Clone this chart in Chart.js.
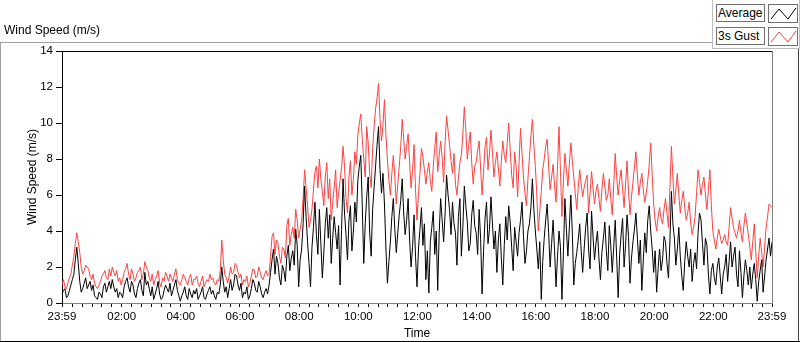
<!DOCTYPE html>
<html>
<head>
<meta charset="utf-8">
<title>Wind Speed (m/s)</title>
<script src="https://cdn.jsdelivr.net/npm/chart.js@4.4.1/dist/chart.umd.min.js"></script>
<style>
  html, body { margin: 0; padding: 0; background: #fff; }
  #wrap { position: relative; width: 800px; height: 342px; overflow: hidden; font-family: "Liberation Sans", Arial, sans-serif; }
  #wrap canvas { position: absolute; left: 0; top: 0; }
  .frame { position: absolute; }
  #title { position: absolute; left: 4px; top: 23px; font-size: 12px; line-height: 14px; color: #000; }
  #legend { position: absolute; left: 712px; top: -1px; width: 86px; height: 49px; border: 1px solid #bdbdbd; border-top: none; background: #fff; }
  .lbl { position: absolute; left: 3px; width: 46px; height: 16px; border: 1px solid #707070; font-size: 12px; line-height: 16px; padding-left: 1px; color: #000; }
  .sw { position: absolute; left: 55px; width: 28px; height: 17px; border: 1px solid #707070; }
</style>
</head>
<body>
<div id="wrap">
  <canvas id="myChart" width="800" height="342"></canvas>
  <!-- panel outline -->
  <div class="frame" style="left:0;top:42px;width:712px;height:1px;background:#a0a0a0"></div>
  <div class="frame" style="left:0;top:42px;width:1px;height:300px;background:#a0a0a0"></div>
  <div class="frame" style="left:0;top:341px;width:800px;height:1px;background:#000"></div>
  <div class="frame" style="left:798px;top:48px;width:1px;height:294px;background:#404040"></div>
  <div id="title">Wind Speed (m/s)</div>
  <div id="legend">
    <div class="lbl" style="top:5px">Average</div>
    <svg class="sw" style="top:5px" viewBox="0 0 28 17"><polyline points="2,14 10,4 19,14 27,3" fill="none" stroke="#000" stroke-width="1"/></svg>
    <div class="lbl" style="top:28px">3s Gust</div>
    <svg class="sw" style="top:28px" viewBox="0 0 28 17"><polyline points="2,14 10,4 19,14 27,3" fill="none" stroke="#ff4040" stroke-width="1"/></svg>
  </div>
</div>
<script>
// one reading every 3 minutes, starting 23:59
const STEP_MIN = 3;

const average = [
  0.5,0.7,0.8,0.3,0.4,0.7,1.0,1.3,1.6,2.4,3.1,2.2,1.2,0.6,0.8,1.1,1.4,0.8,1.0,1.2,
  0.7,1.0,0.4,0.3,0.2,0.6,0.5,0.3,0.9,1.1,0.6,0.9,1.2,0.8,1.3,0.9,0.6,0.8,0.3,0.6,
  0.5,0.3,0.9,1.2,1.4,0.9,0.6,1.2,1.0,0.5,0.3,0.8,1.1,1.3,0.7,0.4,1.7,1.0,1.2,0.8,
  0.4,0.9,0.2,0.5,0.8,1.2,0.5,0.2,0.3,0.7,1.0,0.8,0.6,1.1,0.4,0.7,1.0,1.3,0.7,0.4,
  0.1,0.4,0.6,0.9,0.4,0.2,0.8,0.5,0.3,0.7,0.5,0.8,0.2,0.4,0.6,0.9,0.3,0.2,0.5,0.7,
  0.9,0.5,0.7,0.4,0.2,0.6,0.5,1.0,2.0,1.2,0.6,0.9,0.3,0.8,1.3,0.7,1.0,1.6,1.5,1.0,
  0.7,1.1,0.3,0.6,0.5,0.9,0.2,0.4,0.8,1.3,1.1,0.7,0.6,1.2,0.9,0.5,0.3,0.6,0.8,0.5,
  1.0,1.7,2.4,3.0,1.6,2.6,2.2,1.4,1.0,2.1,1.8,1.2,2.6,3.2,1.8,2.5,2.9,2.1,4.1,3.2,
  0.9,2.4,3.0,4.4,6.5,4.8,3.4,2.2,0.9,3.1,4.2,5.6,3.8,2.7,5.2,3.3,1.4,2.8,4.4,5.3,
  3.6,4.9,2.2,3.6,4.8,3.9,3.0,4.3,1.0,4.1,6.9,5.0,3.8,2.4,4.6,5.4,2.9,4.0,5.6,4.5,
  6.8,7.6,8.2,5.4,2.2,4.4,5.9,7.0,3.9,2.6,5.2,6.4,7.6,8.8,9.8,7.4,6.1,7.2,5.5,3.0,
  1.1,2.3,3.4,4.8,5.8,4.1,2.8,3.9,4.9,5.7,6.9,5.0,3.8,4.6,5.8,3.5,2.0,3.1,4.9,2.6,
  0.9,3.0,4.1,5.3,3.2,4.4,1.3,2.9,0.55,3.4,4.2,5.1,2.7,4.0,0.7,3.9,5.8,4.6,3.4,5.0,
  7.1,6.0,5.2,3.8,5.6,4.4,3.9,2.1,4.8,5.8,2.6,4.2,6.5,5.4,4.5,2.9,3.3,4.9,5.7,4.3,
  3.9,2.7,5.2,3.6,0.5,2.9,4.7,5.6,3.3,4.1,5.9,4.4,3.0,4.0,1.7,3.5,4.4,2.5,1.0,3.2,
  4.8,3.5,5.4,4.5,3.1,1.8,4.2,3.4,2.6,3.9,4.6,5.6,3.7,2.2,2.9,4.0,4.4,5.3,6.9,5.2,
  4.0,3.0,1.9,3.4,0.2,2.3,3.6,4.6,5.5,3.9,2.0,3.3,4.6,2.9,0.9,2.6,4.0,3.1,0.2,2.9,
  5.8,4.1,2.6,4.2,6.0,3.9,1.0,2.2,2.8,3.5,4.4,2.9,1.7,3.0,4.2,5.0,3.0,1.9,5.1,3.7,
  2.4,3.3,4.0,2.5,1.3,2.8,3.6,4.5,2.9,1.8,4.3,3.2,1.7,3.1,4.6,2.5,0.3,2.7,3.8,4.7,
  2.0,3.2,4.9,3.7,1.1,2.5,3.4,4.1,5.0,3.6,2.2,3.5,0.7,2.4,3.9,2.8,4.6,5.4,4.0,3.0,
  1.7,2.9,0.6,1.9,3.0,1.8,2.4,3.7,3.4,2.2,1.4,3.5,6.2,4.4,3.6,2.1,3.0,4.2,2.6,1.5,
  0.7,2.3,3.4,2.6,2.0,3.0,1.2,2.2,2.8,1.9,3.9,5.0,4.6,3.3,2.1,3.6,3.2,1.6,0.5,1.8,
  2.2,1.4,1.0,2.0,2.5,1.5,0.5,1.6,2.0,2.7,1.2,2.3,3.4,2.0,2.6,3.1,1.6,0.9,2.9,1.7,
  0.3,1.5,2.4,1.8,1.0,2.0,0.8,1.6,2.2,1.3,0.1,1.2,1.8,2.4,0.6,1.5,2.4,3.0,3.6,2.6,3.4
];

const gust = [
  1.0,1.3,0.9,0.8,1.1,1.4,1.6,2.1,2.6,3.3,3.9,3.4,2.8,2.0,1.6,1.8,2.1,2.0,1.9,1.5,
  1.3,1.6,1.1,0.9,0.8,1.0,1.2,1.5,1.6,1.8,1.4,1.3,1.9,1.5,2.0,1.7,1.5,1.8,1.2,1.4,
  1.0,1.3,1.7,1.9,2.2,1.6,1.3,1.9,1.6,1.2,1.4,1.7,1.8,2.0,1.3,1.6,2.3,2.0,1.8,1.4,
  1.2,1.6,1.0,1.3,1.5,1.8,1.1,0.9,1.4,1.2,1.7,1.5,1.2,1.6,1.4,1.2,1.6,1.9,1.3,1.1,
  1.0,1.3,1.6,1.4,1.2,1.0,1.4,1.6,1.0,1.3,1.3,1.5,1.1,0.9,1.2,1.5,0.9,1.1,1.3,1.2,
  1.6,1.3,1.4,1.1,1.0,1.3,1.2,1.8,3.5,2.4,1.6,1.4,1.1,1.5,2.0,1.6,1.7,2.2,2.1,1.7,
  1.4,1.6,1.0,1.3,1.2,1.5,0.9,1.1,1.5,1.9,1.8,1.4,1.5,2.0,1.7,1.4,1.3,1.6,1.8,1.5,
  1.6,2.6,3.7,3.9,2.7,3.5,3.3,2.6,2.2,3.1,3.0,2.5,4.3,4.7,3.2,3.8,4.2,3.6,5.2,4.6,
  3.6,4.1,4.6,5.8,7.4,6.4,5.4,4.2,4.6,5.2,6.3,7.3,7.6,6.4,8.0,6.9,6.2,5.4,7.0,7.8,
  5.8,6.9,4.6,5.6,6.4,7.4,5.3,6.1,6.8,7.5,8.7,7.6,5.8,5.0,7.0,7.9,6.0,6.9,8.4,7.7,
  9.3,10.0,10.5,9.1,8.0,7.0,9.8,8.9,7.2,6.4,8.6,9.8,10.8,11.4,12.2,10.2,9.0,9.9,11.3,9.3,
  8.0,6.8,6.0,7.2,8.2,7.0,5.5,6.6,7.6,8.7,10.2,9.1,8.0,8.7,9.4,7.8,6.4,7.4,8.8,6.3,
  4.6,6.1,7.2,8.6,8.1,7.4,6.6,7.3,7.8,6.8,6.2,7.6,8.6,9.5,7.3,8.2,9.0,8.1,6.7,8.9,
  10.4,9.6,8.8,7.9,7.2,8.3,6.6,6.0,6.9,7.8,8.2,9.4,10.9,9.6,8.0,8.8,9.5,7.8,6.6,7.6,
  7.8,8.5,9.0,7.5,6.0,7.3,8.7,9.2,7.4,8.3,9.6,8.4,7.0,7.8,8.4,7.5,6.5,7.9,9.0,8.2,
  7.8,8.9,10.0,8.5,7.1,6.4,8.4,7.6,5.9,7.8,9.7,8.3,7.0,6.1,5.4,6.9,8.1,9.3,10.2,8.8,
  7.6,6.0,4.0,5.1,6.2,7.4,8.0,8.7,9.1,7.6,6.3,7.0,7.7,6.5,5.6,7.6,9.8,7.3,4.8,6.8,
  8.3,7.4,6.5,7.7,8.9,7.9,7.0,6.1,5.2,6.4,7.4,6.6,5.9,6.4,6.8,7.1,5.0,6.1,7.3,6.4,
  5.5,6.2,6.6,5.8,5.1,6.3,7.2,6.5,5.7,6.0,6.9,5.8,4.9,6.6,8.3,7.0,6.0,6.8,7.4,6.3,
  5.3,6.6,7.9,6.2,4.9,5.9,6.7,7.6,8.4,7.1,6.0,6.7,7.2,6.3,5.6,6.1,6.8,7.7,8.9,7.1,
  5.5,4.6,4.0,4.8,5.3,4.7,4.4,5.2,5.8,5.0,4.2,6.4,8.7,7.0,5.5,6.3,7.2,6.0,5.0,5.7,
  6.2,5.3,4.6,5.0,5.6,4.5,3.8,4.2,4.8,6.1,7.4,6.7,6.0,6.6,7.0,6.0,5.2,6.3,7.4,5.4,
  4.0,3.5,3.0,3.6,4.1,3.7,3.3,3.5,3.8,3.4,3.2,4.2,5.3,4.7,4.2,3.9,3.6,4.0,4.6,3.9,
  3.4,4.3,5.0,4.4,3.8,3.1,2.4,3.4,4.4,2.9,1.4,2.6,3.6,2.8,2.0,3.1,4.2,4.8,5.5,5.4,5.3
];

// x axis: minutes after 23:59
const tickMinutes = [0, 121, 241, 361, 481, 601, 721, 841, 961, 1081, 1201, 1321, 1440];
const tickLabels  = ['23:59','02:00','04:00','06:00','08:00','10:00','12:00','14:00','16:00','18:00','20:00','22:00','23:59'];
const yTicks = [0, 2, 4, 6, 8, 10, 12, 14];

const minutes = average.map((v, i) => i * STEP_MIN);
const toPoints = arr => arr.map((v, i) => ({ x: minutes[i], y: v }));

// minor ticks every 20 minutes
const allTicks = new Set(tickMinutes);
for (let m = 21; m < 1440; m += 20) allTicks.add(m);
const xTickValues = Array.from(allTicks).sort((a, b) => a - b);

const fontFamily = "'Liberation Sans', Arial, sans-serif";

// top and right edge of the plot box
const plotFrame = {
  id: 'plotFrame',
  afterDraw(chart) {
    const { ctx, chartArea: a } = chart;
    ctx.save();
    ctx.lineWidth = 1;
    ctx.strokeStyle = '#000';
    ctx.beginPath();
    ctx.moveTo(a.left, a.top + 0.5);
    ctx.lineTo(a.right, a.top + 0.5);
    ctx.stroke();
    ctx.strokeStyle = '#808080';
    ctx.beginPath();
    ctx.moveTo(a.right + 0.5, a.top);
    ctx.lineTo(a.right + 0.5, a.bottom);
    ctx.stroke();
    ctx.restore();
  }
};

const ctx = document.getElementById('myChart').getContext('2d');

new Chart(ctx, {
  type: 'line',
  data: {
    datasets: [{
      label: 'Average',
      data: toPoints(average),
      borderColor: '#000000',
      borderWidth: 1,
      pointRadius: 0,
      tension: 0
    }, {
      label: '3s Gust',
      data: toPoints(gust),
      borderColor: '#ff4040',
      borderWidth: 1,
      pointRadius: 0,
      tension: 0
    }]
  },
  options: {
    responsive: false,
    animation: false,
    devicePixelRatio: 1,
    layout: { padding: { left: 0, top: 51, right: 28, bottom: 0 } },
    plugins: {
      legend: { display: false },
      tooltip: { enabled: false }
    },
    scales: {
      x: {
        type: 'linear',
        min: 0,
        max: 1440,
        afterBuildTicks: scale => { scale.ticks = xTickValues.map(v => ({ value: v })); },
        afterFit: scale => { scale.height = 39; },
        ticks: {
          autoSkip: false,
          maxRotation: 0,
          padding: 3,
          color: '#000',
          font: { family: fontFamily, size: 11.5 },
          callback: value => {
            const k = tickMinutes.indexOf(value);
            return k >= 0 ? tickLabels[k] : '';
          }
        },
        grid: { drawOnChartArea: false, tickLength: 4, tickColor: '#000' },
        border: { color: '#808080' },
        title: {
          display: true,
          text: 'Time',
          color: '#000',
          font: { family: fontFamily, size: 12 },
          padding: { top: 0, bottom: 1 }
        }
      },
      y: {
        min: 0,
        max: 14,
        afterBuildTicks: scale => { scale.ticks = yTicks.map(v => ({ value: v })); },
        afterFit: scale => { scale.width = 62; },
        ticks: {
          padding: 3,
          color: '#000',
          font: { family: fontFamily, size: 11.5 }
        },
        grid: { drawOnChartArea: false, tickLength: 6, tickColor: '#000' },
        border: { color: '#000' },
        title: {
          display: true,
          text: 'Wind Speed (m/s)',
          color: '#000',
          font: { family: fontFamily, size: 12 },
          padding: { top: 25, bottom: 0 }
        }
      }
    }
  },
  plugins: [plotFrame]
});
</script>
</body>
</html>
